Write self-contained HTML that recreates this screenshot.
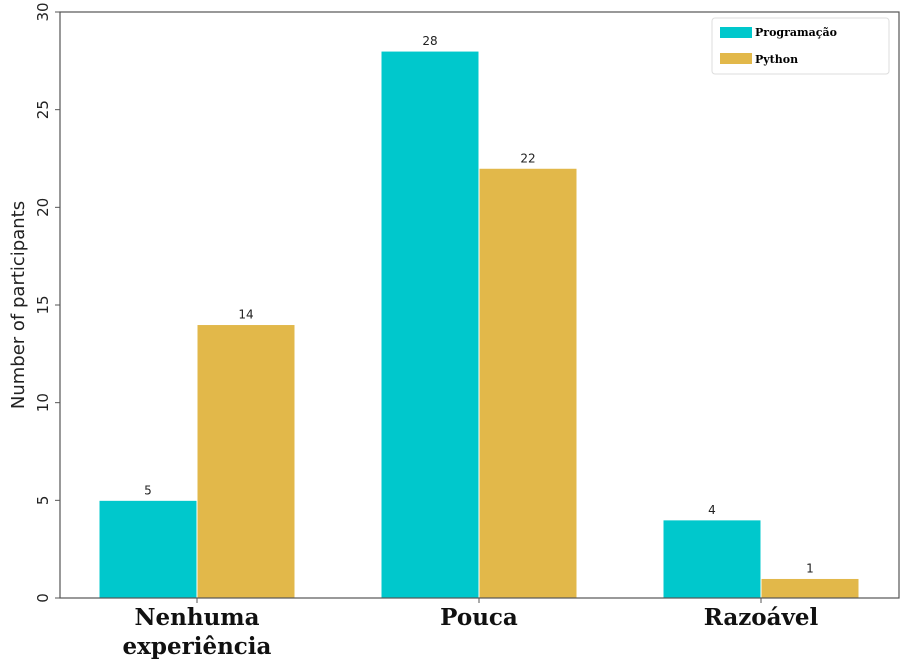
<!DOCTYPE html>
<html><head><meta charset="utf-8"><style>body{margin:0;background:#fff}svg{display:block}</style></head>
<body>
<svg width="906" height="665" viewBox="0 0 906 665" xmlns="http://www.w3.org/2000/svg">
<g id="plot"></g>
<rect x="60" y="12" width="839" height="586" fill="none" stroke="#555" stroke-width="1.2"/>
<g>
<rect x="712" y="18" width="177" height="56" rx="3" fill="#fff" stroke="#ddd"/>
<g><rect x="720" y="27" width="32" height="11" fill="#00c8cc"/><text x="755" y="36" font-family="DejaVu Serif, serif" font-weight="bold" font-size="11">Programação</text></g>
<g><rect x="720" y="53" width="32" height="11" fill="#e2b84a"/><text x="755" y="63" font-family="DejaVu Serif, serif" font-weight="bold" font-size="11">Python</text></g>
</g>
<text transform="translate(24,305) rotate(-90)" text-anchor="middle" font-family="DejaVu Sans, sans-serif" font-size="18" fill="#222">Number of participants</text>
<script>
const categories=[["Nenhuma","experiência"],["Pouca"],["Razoável"]];
const programacao=[5,28,4];
const python=[14,22,1];
const yTicks=[0,5,10,15,20,25,30];
const ns="http://www.w3.org/2000/svg";
const g=document.getElementById('plot');
const y=v=>598-v*(586/30);
const cx=i=>197+i*282;
const bw=98;
function el(t,a){const e=document.createElementNS(ns,t);for(const k in a)e.setAttribute(k,a[k]);g.appendChild(e);return e;}
yTicks.forEach(t=>{
 const l=el('line',{x1:55,x2:60,y1:y(t),y2:y(t),stroke:'#555'});
 
 
 const tx=el('text',{transform:`translate(48,${y(t)}) rotate(-90)`,'text-anchor':'middle','font-family':'DejaVu Sans, sans-serif','font-size':'15',fill:'#222'});
 tx.textContent=t;
 
 
});
function bar(v,x,color,name){
 const r=el('rect',{x:x,y:y(v),width:bw,height:598-y(v),fill:color,stroke:'#fff','stroke-width':1});
 
 
 const t=el('text',{x:x+bw/2,y:y(v)-6,'text-anchor':'middle','font-family':'DejaVu Sans, sans-serif','font-size':'12',fill:'#222'});
 t.textContent=v;
 
 
}
categories.forEach((c,i)=>{
 bar(programacao[i],cx(i)-bw,'#00c8cc','bar-programacao');
 bar(python[i],cx(i),'#e2b84a','bar-python');
 const tk=el('line',{x1:cx(i),x2:cx(i),y1:598,y2:603,stroke:'#555'});
 
 
 c.forEach((line,j)=>{
  const t=el('text',{x:cx(i),y:625+j*29,'text-anchor':'middle','font-family':'DejaVu Serif, serif','font-weight':'bold','font-size':'23',fill:'#111'});
  t.textContent=line;
  
  
 });
});
</script>
</svg>
</body></html>
